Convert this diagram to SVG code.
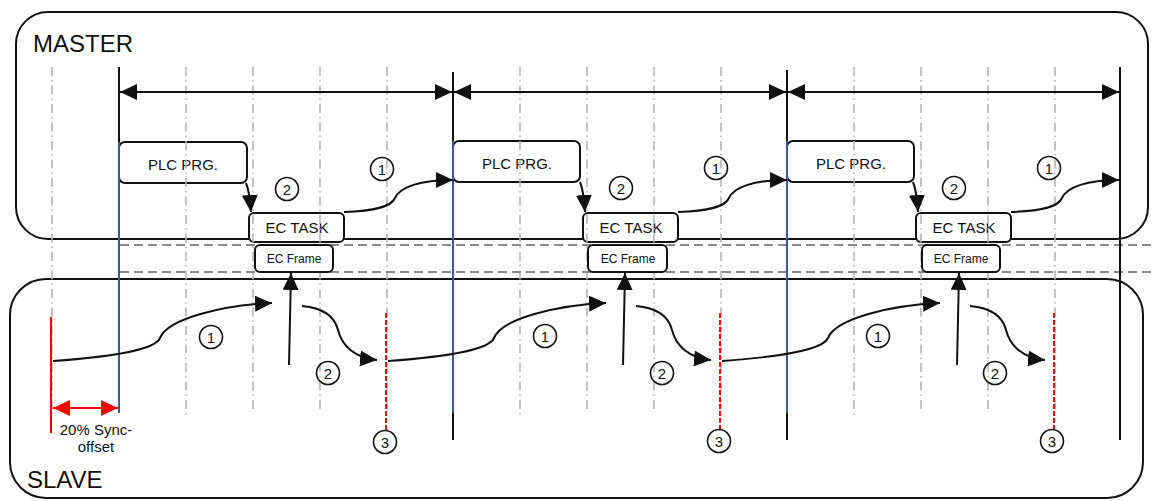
<svg xmlns="http://www.w3.org/2000/svg" width="1154" height="501" viewBox="0 0 1154 501">
<style>
text{font-family:"Liberation Sans",Arial,sans-serif;fill:#111}
.frame{fill:none;stroke:#111;stroke-width:2}
.box{fill:#fff;stroke:#111;stroke-width:2}
.grid{stroke:#b4b4b4;stroke-width:1.6;stroke-dasharray:9 4 1.5 4;fill:none}
.hdash{stroke:#8a8a8a;stroke-width:2;stroke-dasharray:9 5;fill:none}
.blk{stroke:#111;stroke-width:2;fill:none}
.blue{stroke:#3c5a99;stroke-width:2;fill:none}
.arr{stroke:#111;stroke-width:2;fill:none;marker-end:url(#ah)}
.dbl{stroke:#111;stroke-width:2;fill:none;marker-start:url(#ah);marker-end:url(#ah)}
.num{fill:none;stroke:#111;stroke-width:1.6}
.n{font-size:15px;text-anchor:middle}
.lbl{font-size:15px;text-anchor:middle}
</style>
<defs>
<marker id="ah" markerUnits="userSpaceOnUse" markerWidth="17" markerHeight="16" refX="17" refY="8" orient="auto-start-reverse"><path d="M0,0 L17,8 L0,16 z" fill="#111"/></marker>
<marker id="ahr" markerUnits="userSpaceOnUse" markerWidth="17" markerHeight="16" refX="17" refY="8" orient="auto-start-reverse"><path d="M0,0 L17,8 L0,16 z" fill="#f00"/></marker>
</defs>

<g id="master">
<rect class="frame" x="16" y="12" width="1132" height="227" rx="32"/>
<text x="33" y="52" style="font-size:24px">MASTER</text>
</g>
<g id="slave">
<rect class="frame" x="10" y="279" width="1133" height="219" rx="36"/>
<text x="27" y="488" style="font-size:24px">SLAVE</text>
</g>

<g id="plc1"><rect class="box" x="119" y="142" width="128" height="41" rx="6"/><text class="lbl" x="183" y="170">PLC PRG.</text></g>
<g id="plc2"><rect class="box" x="453" y="141" width="127" height="41" rx="6"/><text class="lbl" x="517" y="169">PLC PRG.</text></g>
<g id="plc3"><rect class="box" x="787" y="141" width="127" height="41" rx="6"/><text class="lbl" x="851" y="169">PLC PRG.</text></g>

<g id="ectask1"><rect class="box" x="249" y="213" width="95" height="29" rx="5"/><text class="lbl" x="297" y="233">EC TASK</text></g>
<g id="ectask2"><rect class="box" x="583" y="213" width="95" height="29" rx="5"/><text class="lbl" x="631" y="233">EC TASK</text></g>
<g id="ectask3"><rect class="box" x="916" y="213" width="95" height="29" rx="5"/><text class="lbl" x="964" y="233">EC TASK</text></g>

<g id="grid">
<path class="grid" d="M52 67V417 M186 67V417 M253 67V410 M320 67V410 M387 67V413 M520 67V415 M587 67V410 M654 67V410 M721 67V413 M854 67V415 M921 67V410 M988 67V410 M1055 67V413"/>
<path class="hdash" d="M120 245H1154 M120 272H1154"/>
</g>

<g id="ecframe1"><rect class="box" x="255" y="245" width="78" height="27" rx="5"/><text x="294" y="263" style="font-size:12px;text-anchor:middle">EC Frame</text></g>
<g id="ecframe2"><rect class="box" x="588" y="245" width="79" height="27" rx="5"/><text x="628" y="263" style="font-size:12px;text-anchor:middle">EC Frame</text></g>
<g id="ecframe3"><rect class="box" x="922" y="245" width="78" height="27" rx="5"/><text x="961" y="263" style="font-size:12px;text-anchor:middle">EC Frame</text></g>

<g id="timelines">
<path class="blk" d="M119 67V142 M453 72V141 M453 413V440 M787 70V141 M787 413V440 M1120 67V440"/>
<path class="blue" d="M119 142V413 M453 141V413 M787 141V413"/>
<path d="M51 317V433" stroke="#f00" stroke-width="2"/>
<path d="M386 313V430 M720 313V430 M1054 313V430" stroke="#f00" stroke-width="2" stroke-dasharray="5 2"/>
</g>

<g id="connectors">
<path class="dbl" d="M120 92H452"/>
<path class="dbl" d="M454 92H786"/>
<path class="dbl" d="M788 92H1119"/>
<path d="M53 408H118" stroke="#f00" stroke-width="2" marker-start="url(#ahr)" marker-end="url(#ahr)"/>

<path class="arr" d="M246 183 C249 190 250 198 251 212"/>
<path class="arr" d="M580 182 C583 189 584 197 585 212"/>
<path class="arr" d="M913 182 C916 189 917 197 918 212"/>

<path class="arr" d="M344 212 C375 211 391 207 395 198 C400 187 420 180 453 180"/>
<path class="arr" d="M678 212 C709 211 725 207 729 198 C734 187 754 180 787 180"/>
<path class="arr" d="M1011 212 C1042 211 1058 207 1062 198 C1067 187 1087 180 1119 180"/>

<path class="arr" d="M53 361 C110 357 155 350 160 338 C168 318 225 305 272 303"/>
<path class="arr" d="M388 361 C444 357 489 350 494 338 C502 318 559 305 606 303"/>
<path class="arr" d="M722 361 C778 357 823 350 828 338 C836 318 893 305 940 303"/>

<path class="arr" d="M289 365 L291 273"/>
<path class="arr" d="M623 365 L625 273"/>
<path class="arr" d="M957 365 L959 273"/>

<path class="arr" d="M302 306 C325 308 335 318 338 330 C342 346 355 358 377 360"/>
<path class="arr" d="M636 306 C659 308 669 318 672 330 C676 346 689 358 711 360"/>
<path class="arr" d="M970 306 C993 308 1003 318 1006 330 C1010 346 1023 358 1045 360"/>
</g>

<g id="labels">
<circle class="num" cx="382" cy="169" r="11.5"/><text class="n" x="382" y="174.5">1</text>
<circle class="num" cx="716" cy="168" r="11.5"/><text class="n" x="716" y="173.5">1</text>
<circle class="num" cx="1049" cy="168" r="11.5"/><text class="n" x="1049" y="173.5">1</text>
<circle class="num" cx="287" cy="189" r="11.5"/><text class="n" x="287" y="194.5">2</text>
<circle class="num" cx="621" cy="188" r="11.5"/><text class="n" x="621" y="193.5">2</text>
<circle class="num" cx="954" cy="188" r="11.5"/><text class="n" x="954" y="193.5">2</text>
<circle class="num" cx="211" cy="337" r="11.5"/><text class="n" x="211" y="342.5">1</text>
<circle class="num" cx="545" cy="336" r="11.5"/><text class="n" x="545" y="341.5">1</text>
<circle class="num" cx="878" cy="336" r="11.5"/><text class="n" x="878" y="341.5">1</text>
<circle class="num" cx="328" cy="373" r="11.5"/><text class="n" x="328" y="378.5">2</text>
<circle class="num" cx="662" cy="373" r="11.5"/><text class="n" x="662" y="378.5">2</text>
<circle class="num" cx="995" cy="373" r="11.5"/><text class="n" x="995" y="378.5">2</text>
<circle class="num" cx="385" cy="442" r="11.5"/><text class="n" x="385" y="447.5">3</text>
<circle class="num" cx="719" cy="441" r="11.5"/><text class="n" x="719" y="446.5">3</text>
<circle class="num" cx="1052" cy="441" r="11.5"/><text class="n" x="1052" y="446.5">3</text>
<text class="lbl" x="96" y="435">20% Sync-</text>
<text class="lbl" x="96" y="452">offset</text>
</g>
</svg>
